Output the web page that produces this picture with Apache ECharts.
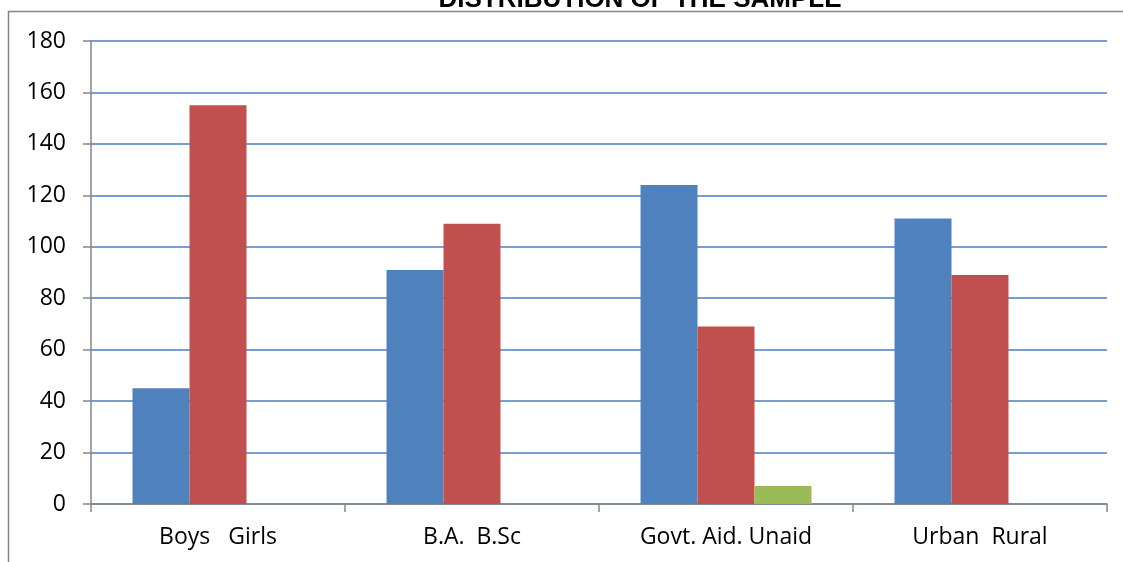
<!DOCTYPE html>
<html><head><meta charset="utf-8">
<script src="https://cdn.jsdelivr.net/npm/echarts@6/dist/echarts.min.js"></script>
<style>html,body{margin:0;padding:0;background:#fff}#c{width:1123px;height:562px}</style>
</head><body><div id="c"></div>
<script>
const categories = ['Boys   Girls', 'B.A.  B.Sc', 'Govt. Aid. Unaid', 'Urban  Rural'];
const series1 = [45, 91, 124, 111];
const series2 = [155, 109, 69, 89];
const series3 = [null, null, 7, null];
const yTicks = {min: 0, max: 180, interval: 20};
const titleText = 'DISTRIBUTION OF THE SAMPLE';

const chart = echarts.init(document.getElementById('c'));
const labelFont = {fontFamily: 'Open Sans', fontSize: 23, color: '#000'};
chart.setOption({
  animation: false,
  title: {text: titleText, left: 635, top: -18, textAlign: 'center',
    textStyle: {fontFamily: 'Liberation Sans', fontWeight: 'bold', fontSize: 26, color: '#000'}},
  graphic: [{type: 'rect', shape: {x: 8.5, y: 11.5, width: 1300, height: 700},
    style: {fill: 'none', stroke: '#868686', lineWidth: 1.5}, silent: true}],
  grid: {left: 91, right: 16, top: 41, bottom: 58, containLabel: false},
  xAxis: {type: 'category', data: categories,
    axisLine: {lineStyle: {color: '#868686', width: 1.5}},
    axisTick: {show: true, length: 8, lineStyle: {color: '#868686', width: 1.5}},
    axisLabel: Object.assign({margin: 22}, labelFont)},
  yAxis: {type: 'value', min: yTicks.min, max: yTicks.max, interval: yTicks.interval,
    axisLine: {show: true, lineStyle: {color: '#868686', width: 1.5}},
    axisTick: {show: true, length: 8, lineStyle: {color: '#868686', width: 1.5}},
    axisLabel: Object.assign({margin: 25}, labelFont),
    splitLine: {lineStyle: {color: '#4a7ebb', width: 1.5}}},
  series: [
    {type: 'bar', data: series1, itemStyle: {color: '#4f81bd'}, barGap: '0%', barCategoryGap: '32.7%'},
    {type: 'bar', data: series2, itemStyle: {color: '#c0504d'}},
    {type: 'bar', data: series3, itemStyle: {color: '#9bbb59'}}
  ]
});
</script></body></html>
